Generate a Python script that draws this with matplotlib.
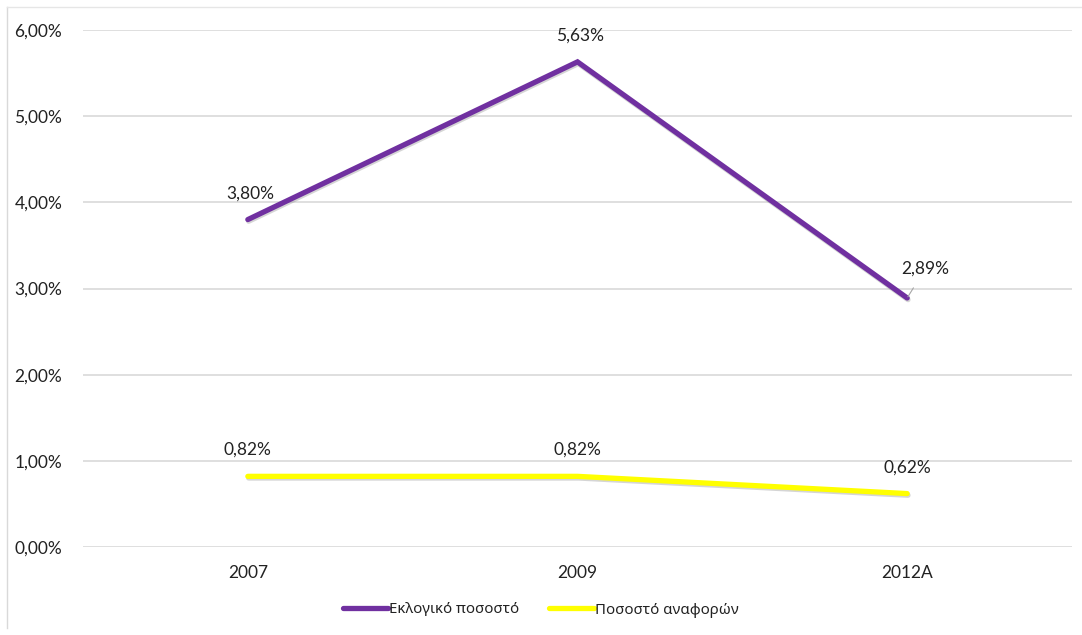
import matplotlib
matplotlib.use("Agg")
import matplotlib.pyplot as plt
import matplotlib.patheffects as pe
from matplotlib.lines import Line2D
from matplotlib.ticker import FuncFormatter

categories = ["2007", "2009", "2012A"]
electoral = [3.80, 5.63, 2.89]
reports = [0.82, 0.82, 0.62]
series_names = ["Εκλογικό ποσοστό", "Ποσοστό αναφορών"]
yticks = [0, 1, 2, 3, 4, 5, 6]

plt.rcParams['font.family'] = ['Lato', 'DejaVu Sans']
FS = 12.5

fig = plt.figure(figsize=(10.82, 6.35), dpi=100)
ax = fig.add_axes([83/1082, 1-547/635, (1072-83)/1082, (547-30)/635])

x = list(range(len(categories)))
shadow = [pe.SimpleLineShadow(offset=(0.6, -1.2), shadow_color='#888888', alpha=0.35), pe.Normal()]
l1, = ax.plot(x, electoral, color='#7030A0', lw=3.8, solid_capstyle='round', solid_joinstyle='miter',
              path_effects=shadow, zorder=3)
l2, = ax.plot(x, reports, color='#FFFF00', lw=3.8, solid_capstyle='round',
              path_effects=shadow, zorder=3)

fmt = lambda v: f"{v:.2f}%".replace('.', ',')
for i, v in enumerate(electoral):
    if i == 2:
        ax.annotate(fmt(v), xy=(i, v), xytext=(13, 21), textcoords='offset points',
                    ha='center', va='center', fontsize=FS, color='#222222',
                    arrowprops=dict(arrowstyle='-', color='#a6a6a6', lw=0.8,
                                    shrinkA=7, shrinkB=1))
    else:
        ax.annotate(fmt(v), xy=(i, v), xytext=(2, 19), textcoords='offset points',
                    ha='center', va='center', fontsize=FS, color='#222222')
for i, v in enumerate(reports):
    ax.annotate(fmt(v), xy=(i, v), xytext=(0, 19), textcoords='offset points',
                ha='center', va='center', fontsize=FS, color='#222222')

ax.set_xlim(-0.5, 2.5)
ax.set_ylim(0, 6)
ax.set_xticks(x)
ax.set_xticklabels(categories)
ax.set_yticks(yticks)
ax.yaxis.set_major_formatter(FuncFormatter(lambda v, p: fmt(v)))
ax.grid(axis='y', color='#d9d9d9', lw=1.2)
ax.set_axisbelow(True)
for s in ax.spines.values():
    s.set_visible(False)
ax.tick_params(length=0, labelsize=FS, colors='#222222')
ax.tick_params(axis='y', pad=15)
ax.tick_params(axis='x', pad=13)

handles = [Line2D([0], [0], color='#7030A0', lw=3.8, solid_capstyle='round'),
           Line2D([0], [0], color='#FFFF00', lw=3.8, solid_capstyle='round')]
leg = fig.legend(handles, series_names, loc='center', bbox_to_anchor=(0.5, 1-610/635), ncol=2,
                 frameon=False, prop={'family': ['Noto Sans', 'DejaVu Sans'], 'size': 10.8},
                 handlelength=3.0, handletextpad=0.05, columnspacing=2.0)
for t in leg.get_texts():
    t.set_color('#222222')

# figure border (left and top)
fig.add_artist(Line2D([7/1082, 7/1082], [1-628/635, 1-7/635], transform=fig.transFigure, color='#d9d9d9', lw=1))
fig.add_artist(Line2D([7/1082, 1], [1-7/635, 1-7/635], transform=fig.transFigure, color='#e6e6e6', lw=1))

fig.savefig("out.png", dpi=100)
